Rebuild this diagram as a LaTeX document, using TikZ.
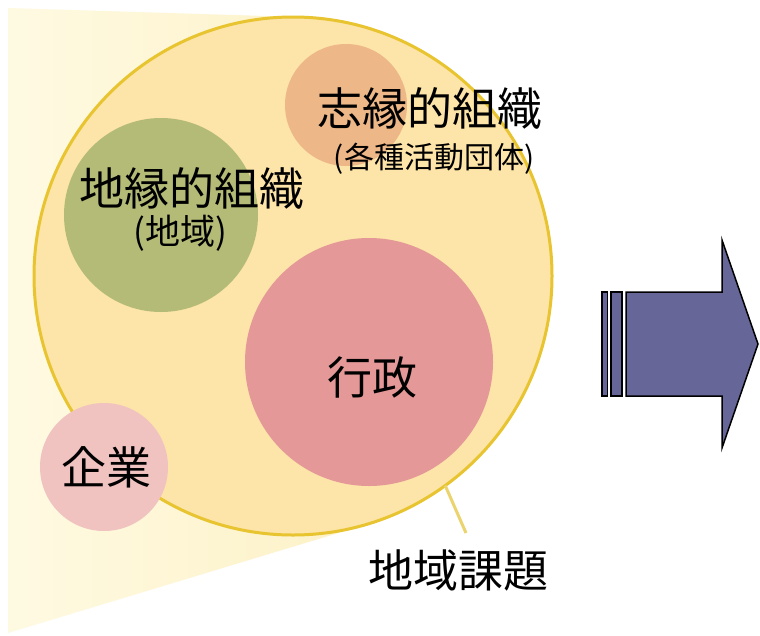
\documentclass[tikz,border=0pt]{standalone}
\usepackage{fontspec}
\newfontfamily\jp{Noto Sans CJK JP}
\usetikzlibrary{calc}
\definecolor{wedgeL}{RGB}{254,250,226}
\definecolor{wedgeR}{RGB}{253,241,198}
\definecolor{mainfill}{RGB}{253,228,168}
\definecolor{gold}{RGB}{232,196,48}
\definecolor{calloutc}{RGB}{235,212,110}
\definecolor{tanc}{RGB}{237,183,135}
\definecolor{greenc}{RGB}{180,187,118}
\definecolor{redc}{RGB}{228,152,152}
\definecolor{pinkc}{RGB}{240,195,192}
\definecolor{arrowc}{RGB}{102,102,153}
\tikzset{
  blob/.style={circle, inner sep=0pt, outer sep=0pt, draw=none},
  bigtext/.style={font=\jp\fontsize{45}{50}\selectfont, inner sep=0pt, text=black},
  subtext/.style={font=\jp\fontsize{30}{34}\selectfont, inner sep=0pt, text=black},
  subtextb/.style={font=\jp\fontsize{35}{40}\selectfont, inner sep=0pt, text=black},
  arrowpart/.style={fill=arrowc, draw=black, line width=1.5pt, line join=miter},
}
\begin{document}
\begin{tikzpicture}[x=1pt, y=-1pt]
\useasboundingbox (0,0) rectangle (760,635);
\fill[white] (0,0) rectangle (760,635);
% light wedge behind the main circle
\shade[left color=wedgeL, right color=wedgeR] (8,8) -- (300.7,17.1) -- (293,276) -- (368,524) -- (8,633) -- cycle;
% main circle
\node[blob, fill=mainfill, draw=gold, line width=3pt, minimum size=518pt] (main) at (293,276) {};
% inner circles
\node[blob, fill=tanc, minimum size=122pt] (shien) at (346,105) {};
\node[blob, fill=greenc, minimum size=194pt] (chien) at (161,215) {};
\node[blob, fill=redc, minimum size=248pt] (gyosei) at (369,362) {};
\node[blob, fill=pinkc, minimum size=128pt] (kigyo) at (104,467) {};
% texts
\node[bigtext] (t1) at (430,108) {志縁的組織};
\node[subtext] (t1s) at (434,159) {(各種活動団体)};
\node[bigtext] (t2) at (192,188) {地縁的組織};
\node[subtextb] (t2s) at (180,233) {(地域)};
\node[bigtext] (t3) at (372,377) {行政};
\node[bigtext] (t4) at (106,467) {企業};
\node[bigtext] (t5) at (458,570) {地域課題};
% callout
\coordinate (calloutend) at (466,533);
\draw[calloutc, line width=3pt] (main.-54.8) -- (calloutend);
% block arrow
\path[arrowpart] (602,292) rectangle (607.5,396);
\path[arrowpart] (611,292) rectangle (622,396);
\path[arrowpart] (626,292) -- (722,292) -- (722,240) -- (758,344) -- (722,448) -- (722,396) -- (626,396) -- cycle;
\end{tikzpicture}
\end{document}
